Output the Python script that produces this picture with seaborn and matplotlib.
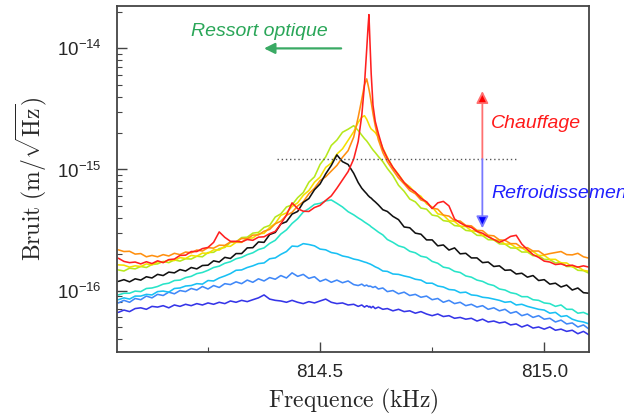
import numpy as np
import pandas as pd
import matplotlib
matplotlib.use("Agg")
import matplotlib.pyplot as plt
import seaborn as sns
from matplotlib.ticker import MultipleLocator, FixedLocator, LogLocator, LogFormatterMathtext, NullFormatter

# Frequency axis (kHz), denser around the resonance
freq = [814.0500, 814.0625, 814.0750, 814.0875, 814.1000, 814.1125, 814.1250, 814.1375, 814.1500, 814.1625,
        814.1750, 814.1875, 814.2000, 814.2125, 814.2250, 814.2375, 814.2500, 814.2625, 814.2750, 814.2875,
        814.3000, 814.3125, 814.3250, 814.3375, 814.3500, 814.3625, 814.3750, 814.3875, 814.4000, 814.4125,
        814.4250, 814.4375, 814.4500, 814.4625, 814.4750, 814.4875, 814.5000, 814.5125, 814.5250, 814.5375,
        814.5500, 814.5625, 814.5750, 814.5850, 814.5930, 814.5990, 814.6040, 814.6070, 814.6090, 814.6110,
        814.6140, 814.6180, 814.6230, 814.6300, 814.6400, 814.6500, 814.6625, 814.6750, 814.6875, 814.7000,
        814.7125, 814.7250, 814.7375, 814.7500, 814.7625, 814.7750, 814.7875, 814.8000, 814.8125, 814.8250,
        814.8375, 814.8500, 814.8625, 814.8750, 814.8875, 814.9000, 814.9125, 814.9250, 814.9375, 814.9500,
        814.9625, 814.9750, 814.9875, 815.0000, 815.0125, 815.0250, 815.0375, 815.0500, 815.0625, 815.0750,
        815.0875, 815.1000]

# Displacement noise spectra, in units of 1e-16 m/sqrt(Hz)
bruit_rouge = [1.85, 1.74, 1.70, 1.72, 1.66, 1.73, 1.67, 1.76, 1.70, 1.80,
               1.82, 1.95, 1.96, 2.10, 2.10, 2.22, 2.27, 2.50, 3.05, 2.75,
               2.55, 2.55, 2.52, 2.64, 2.60, 2.76, 2.78, 2.95, 3.08, 3.55,
               4.2, 5.3, 4.75, 4.52, 4.50, 4.85, 5.05, 5.55, 6.05, 7.0,
               8.2, 9.6, 12.2, 17.0, 28, 50, 98, 150, 190, 120,
               62, 34, 25, 19.8, 14.8, 12.4, 10.4, 9.0, 7.8, 7.0,
               6.5, 5.8, 5.4, 4.75, 5.3, 5.45, 5.0, 3.9, 3.62, 3.42,
               3.32, 3.08, 2.97, 2.78, 2.64, 2.50, 2.62, 2.80, 2.86, 2.42,
               2.18, 1.98, 1.88, 1.75, 1.72, 1.64, 1.66, 1.60, 1.62, 1.56, 1.60, 1.56]

bruit_orange = [2.17, 2.10, 2.11, 2.00, 2.02, 1.90, 1.95, 1.90, 1.98, 1.93,
                2.03, 1.98, 2.08, 2.05, 2.16, 2.12, 2.26, 2.24, 2.37, 2.36,
                2.52, 2.52, 2.69, 2.68, 2.87, 2.88, 3.09, 3.20, 3.56, 3.74,
                4.18, 4.42, 5.0, 5.4, 6.3, 7.0, 8.1, 8.7, 9.7, 10.8,
                12.6, 14.3, 18.5, 27, 38, 50, 56, 50, 46, 42,
                36, 29, 23, 17.6, 13.8, 11.6, 9.9, 8.5, 7.6, 6.7,
                6.3, 5.6, 5.4, 4.8, 4.7, 4.2, 4.12, 3.78, 3.75, 3.45,
                3.42, 3.14, 3.12, 2.86, 2.83, 2.62, 2.60, 2.44, 2.44, 2.26,
                2.26, 2.12, 2.12, 1.97, 2.02, 2.06, 2.10, 1.98, 1.97, 2.03, 1.90, 1.85]

bruit_jaune = [1.63, 1.62, 1.56, 1.60, 1.58, 1.66, 1.63, 1.73, 1.71, 1.79,
               1.77, 1.87, 1.84, 1.95, 1.92, 2.04, 2.03, 2.17, 2.16, 2.32,
               2.32, 2.50, 2.50, 2.70, 2.72, 2.94, 2.97, 3.32, 3.58, 4.18,
               4.38, 4.95, 5.30, 6.12, 6.70, 7.85, 8.65, 10.4, 11.3, 13.4,
               14.8, 17.4, 20.5, 24.5, 27.0, 27.8, 26.0, 24.5, 23.5, 22.6,
               21.6, 21.0, 20.2, 18.5, 15.0, 12.6, 10.4, 9.1, 7.8, 7.2,
               6.4, 6.0, 5.2, 4.9, 4.3, 4.2, 3.78, 3.72, 3.40, 3.38,
               3.12, 3.08, 2.85, 2.83, 2.62, 2.60, 2.42, 2.42, 2.26, 2.26,
               2.10, 2.10, 1.95, 1.95, 1.81, 1.81, 1.69, 1.69, 1.57, 1.57, 1.47, 1.44]

bruit_vert = [1.48, 1.45, 1.53, 1.51, 1.58, 1.55, 1.64, 1.66, 1.74, 1.70,
              1.79, 1.75, 1.83, 1.82, 1.92, 1.90, 2.06, 2.07, 2.22, 2.27,
              2.50, 2.52, 2.74, 2.76, 2.98, 3.02, 3.32, 3.45, 4.05, 4.30,
              4.90, 5.10, 5.85, 6.45, 7.85, 8.70, 11.0, 12.7, 15.8, 17.5,
              20.3, 21.5, 23.0, 21.0, 19.2, 18.0, 17.2, 16.6, 16.2, 15.8,
              15.2, 14.5, 13.8, 12.8, 11.6, 10.2, 8.9, 7.4, 6.6, 5.7,
              5.4, 4.8, 4.7, 4.2, 4.12, 3.78, 3.72, 3.44, 3.40, 3.14,
              3.10, 2.86, 2.84, 2.63, 2.62, 2.43, 2.42, 2.25, 2.24, 2.08,
              2.08, 1.94, 1.94, 1.81, 1.80, 1.69, 1.70, 1.58, 1.58, 1.47, 1.46, 1.39]

bruit_noir = [1.19, 1.23, 1.18, 1.25, 1.22, 1.30, 1.27, 1.36, 1.33, 1.42,
              1.40, 1.49, 1.45, 1.55, 1.51, 1.61, 1.62, 1.76, 1.72, 1.88,
              1.84, 2.02, 2.02, 2.25, 2.26, 2.52, 2.50, 2.90, 3.02, 3.55,
              3.70, 4.28, 4.50, 5.35, 5.75, 6.80, 7.60, 9.20, 10.8, 13.2,
              11.6, 11.0, 9.3, 7.8, 7.0, 6.6, 6.3, 6.1, 6.0, 5.9,
              5.8, 5.6, 5.4, 5.1, 4.65, 4.5, 4.1, 3.85, 3.35, 3.3,
              2.98, 2.92, 2.62, 2.62, 2.34, 2.38, 2.16, 2.25, 2.01, 2.03,
              1.86, 1.86, 1.70, 1.72, 1.58, 1.60, 1.47, 1.48, 1.37, 1.39,
              1.29, 1.33, 1.21, 1.23, 1.13, 1.15, 1.07, 1.11, 1.01, 1.05, 0.96, 0.95]

bruit_turquoise = [0.92, 0.95, 0.95, 0.99, 0.98, 1.04, 1.05, 1.08, 1.13, 1.15,
                   1.21, 1.22, 1.28, 1.31, 1.38, 1.41, 1.47, 1.55, 1.59, 1.68,
                   1.73, 1.83, 1.88, 1.98, 2.05, 2.18, 2.25, 2.45, 2.60, 2.93,
                   3.17, 3.58, 3.92, 4.45, 4.75, 5.15, 5.25, 5.50, 5.60, 5.25,
                   4.90, 4.48, 4.22, 3.98, 3.82, 3.68, 3.58, 3.52, 3.48, 3.44,
                   3.36, 3.28, 3.18, 3.04, 2.88, 2.64, 2.50, 2.34, 2.27, 2.11,
                   2.05, 1.92, 1.88, 1.74, 1.68, 1.56, 1.53, 1.44, 1.41, 1.32,
                   1.29, 1.22, 1.19, 1.13, 1.10, 1.03, 1.01, 0.96, 0.94, 0.89,
                   0.89, 0.84, 0.83, 0.79, 0.78, 0.74, 0.76, 0.70, 0.70, 0.65, 0.66, 0.63]

bruit_ciel = [0.84, 0.87, 0.85, 0.90, 0.90, 0.93, 0.92, 0.98, 0.99, 0.97,
              1.04, 1.05, 1.09, 1.10, 1.14, 1.13, 1.21, 1.20, 1.27, 1.32,
              1.38, 1.47, 1.48, 1.55, 1.60, 1.67, 1.69, 1.83, 1.86, 1.99,
              2.10, 2.33, 2.31, 2.44, 2.40, 2.34, 2.20, 2.17, 2.06, 2.02,
              1.93, 1.89, 1.82, 1.79, 1.75, 1.72, 1.70, 1.68, 1.67, 1.66,
              1.64, 1.61, 1.57, 1.53, 1.45, 1.44, 1.37, 1.36, 1.32, 1.29,
              1.24, 1.22, 1.15, 1.15, 1.09, 1.07, 1.02, 1.01, 0.96, 0.97,
              0.92, 0.91, 0.88, 0.87, 0.85, 0.83, 0.80, 0.81, 0.76, 0.77,
              0.74, 0.72, 0.70, 0.69, 0.65, 0.66, 0.61, 0.62, 0.58, 0.56, 0.55, 0.53]

bruit_bleu = [0.79, 0.83, 0.80, 0.86, 0.84, 0.90, 0.87, 0.93, 0.91, 0.97,
              0.94, 1.00, 0.98, 1.04, 1.01, 1.08, 1.03, 1.10, 1.06, 1.14,
              1.12, 1.18, 1.14, 1.22, 1.17, 1.25, 1.20, 1.28, 1.24, 1.33,
              1.27, 1.40, 1.31, 1.36, 1.26, 1.30, 1.19, 1.24, 1.17, 1.22,
              1.16, 1.20, 1.12, 1.10, 1.13, 1.09, 1.11, 1.09, 1.08, 1.09,
              1.08, 1.06, 1.08, 1.03, 1.05, 0.98, 1.00, 0.94, 0.97, 0.91,
              0.93, 0.88, 0.90, 0.84, 0.86, 0.80, 0.83, 0.78, 0.80, 0.75,
              0.77, 0.73, 0.75, 0.70, 0.72, 0.68, 0.70, 0.65, 0.67, 0.62,
              0.64, 0.60, 0.62, 0.58, 0.59, 0.55, 0.57, 0.53, 0.54, 0.50, 0.52, 0.48]

bruit_indigo = [0.66, 0.69, 0.67, 0.71, 0.72, 0.70, 0.74, 0.73, 0.75, 0.72,
                0.76, 0.74, 0.77, 0.75, 0.78, 0.76, 0.79, 0.77, 0.80, 0.78,
                0.82, 0.80, 0.83, 0.81, 0.84, 0.87, 0.92, 0.85, 0.83, 0.82,
                0.80, 0.83, 0.80, 0.78, 0.81, 0.79, 0.82, 0.85, 0.80, 0.78,
                0.79, 0.76, 0.77, 0.74, 0.76, 0.73, 0.75, 0.74, 0.73, 0.74,
                0.72, 0.74, 0.71, 0.73, 0.70, 0.71, 0.68, 0.70, 0.67, 0.68,
                0.65, 0.67, 0.64, 0.62, 0.64, 0.61, 0.62, 0.59, 0.60, 0.58,
                0.59, 0.56, 0.58, 0.55, 0.56, 0.54, 0.55, 0.52, 0.53, 0.50,
                0.52, 0.49, 0.50, 0.48, 0.50, 0.47, 0.48, 0.46, 0.47, 0.44, 0.46, 0.43]

# Drawing order (bottom to top) and colours
courbes = {
    "indigo": (bruit_indigo, "#3535e8"),
    "bleu": (bruit_bleu, "#4088f8"),
    "ciel": (bruit_ciel, "#18c0f4"),
    "turquoise": (bruit_turquoise, "#28e4c8"),
    "vert": (bruit_vert, "#b6e81c"),
    "jaune": (bruit_jaune, "#f4e000"),
    "orange": (bruit_orange, "#ff9010"),
    "noir": (bruit_noir, "#111111"),
    "rouge": (bruit_rouge, "#ff2020"),
}

rows = []
for nom, (vals, _) in courbes.items():
    for f, v in zip(freq, vals):
        rows.append({"freq": f, "bruit": v * 1e-16, "courbe": nom})
df = pd.DataFrame(rows)
palette = {nom: c for nom, (_, c) in courbes.items()}

sns.set_style("ticks", {"xtick.direction": "in", "ytick.direction": "in"})
plt.rcParams["font.family"] = ["Liberation Sans", "DejaVu Sans"]
plt.rcParams["mathtext.fontset"] = "custom"
plt.rcParams["mathtext.rm"] = "Liberation Sans"
plt.rcParams["mathtext.it"] = "Liberation Sans:italic"

fig = plt.figure(figsize=(6.24, 4.19), dpi=100)
ax = fig.add_axes([0.1875, 0.160, 0.7565, 0.8257])
ax.set_yscale("log")

sns.lineplot(data=df, x="freq", y="bruit", hue="courbe", hue_order=list(courbes.keys()),
             palette=palette, estimator=None, legend=False, lw=1.15, ax=ax)

ax.set_xlim(814.047, 815.1)
ax.set_ylim(3.11e-17, 2.24e-14)

ax.xaxis.set_major_locator(FixedLocator([814.5, 815.0]))
ax.xaxis.set_minor_locator(FixedLocator([814.25, 814.75]))
ax.xaxis.set_major_formatter(plt.FuncFormatter(lambda v, p: f"{v:.1f}"))
ax.yaxis.set_major_locator(FixedLocator([1e-16, 1e-15, 1e-14]))
ax.yaxis.set_minor_locator(LogLocator(base=10, subs=np.arange(2, 10)))
ax.yaxis.set_major_formatter(LogFormatterMathtext())
ax.yaxis.set_minor_formatter(NullFormatter())

ax.tick_params(which="major", length=7, width=1, color="#444444", labelsize=13.5, pad=9)
ax.tick_params(which="minor", length=3.5, width=0.8, color="#444444")
ax.tick_params(axis="y", which="major", pad=11)
for sp in ax.spines.values():
    sp.set_linewidth(1.3)
    sp.set_color("#444444")

ax.set_xlabel(r"$\mathrm{Frequence\ (kHz)}$", fontsize=17, math_fontfamily="cm", labelpad=4)
ax.set_ylabel(r"$\mathrm{Bruit\ (m/}\sqrt{\mathrm{Hz}}\mathrm{)}$", fontsize=17,
              math_fontfamily="cm", labelpad=6)

# Reference level
ax.hlines(1.22e-15, 814.404, 814.937, colors="#555555", linestyles=(0, (1, 2)), lw=1)

# Optical spring: frequency shift
ax.annotate("", xy=(814.375, 1.0e-14), xytext=(814.547, 1.0e-14),
            arrowprops=dict(arrowstyle="-|>", color="#3aaa64", lw=1.6, mutation_scale=16,
                            shrinkA=0, shrinkB=0))
ax.text(814.364, 1.39e-14, "Ressort optique", color="#2aa658", style="italic",
        fontsize=14, ha="center", va="center")

# Heating / cooling arrows
ax.annotate("", xy=(814.862, 4.44e-15), xytext=(814.862, 1.22e-15),
            arrowprops=dict(arrowstyle="-|>", ec="#ff7070", fc="#ff0000", lw=1.3,
                            mutation_scale=18, shrinkA=0, shrinkB=0))
ax.annotate("", xy=(814.862, 3.27e-16), xytext=(814.862, 1.22e-15),
            arrowprops=dict(arrowstyle="-|>", ec="#7878ff", fc="#0000ff", lw=1.3,
                            mutation_scale=18, shrinkA=0, shrinkB=0))
ax.text(814.882, 2.41e-15, "Chauffage", color="#ff1a1a", style="italic",
        fontsize=14, ha="left", va="center")
ax.text(814.882, 6.37e-16, "Refroidissement", color="#2020ff", style="italic",
        fontsize=14, ha="left", va="center", clip_on=False)

fig.savefig("out.png", dpi=100)
